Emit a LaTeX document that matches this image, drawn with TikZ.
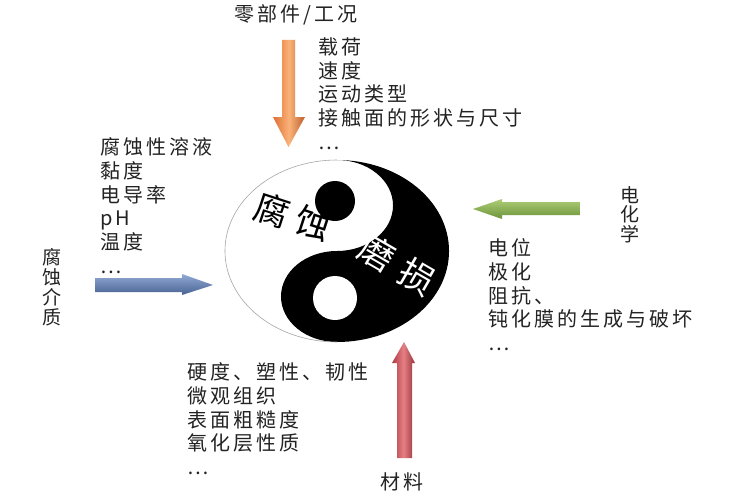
\documentclass[tikz,border=0pt]{standalone}
\usepackage{fontspec}
\newfontfamily\cjk{Noto Sans CJK SC}[LetterSpace=15]
\newfontfamily\cjkbig{Noto Sans CJK SC}
\definecolor{txt}{RGB}{35,35,35}
\definecolor{orD}{RGB}{222,112,52}
\definecolor{orL}{RGB}{250,178,120}
\definecolor{rdD}{RGB}{178,58,70}
\definecolor{rdL}{RGB}{228,128,132}
\definecolor{blL}{RGB}{145,170,212}
\definecolor{blD}{RGB}{72,98,148}
\definecolor{grL}{RGB}{172,205,118}
\definecolor{grD}{RGB}{108,148,58}
\tikzset{
  listtext/.style={font=\cjk\fontsize{20}{23.7}\selectfont, text=txt, align=left, inner sep=0pt, anchor=north west},
  vtext/.style={font=\cjk\fontsize{19}{20}\selectfont, text=txt, align=center, inner sep=0pt, anchor=north},
  label/.style={font=\cjk\fontsize{20}{24}\selectfont, text=txt, inner sep=0pt},
  bigtext/.style={font=\cjkbig\fontsize{35}{35}\selectfont, inner sep=0pt},
  arrowedge/.style={line width=0.4pt, line join=round}
}
\begin{document}
\begin{tikzpicture}[x=1pt,y=-1pt]
\useasboundingbox (0,0) rectangle (738,495);
\fill[white] (0,0) rectangle (738,495);

% yin-yang
\begin{scope}[shift={(337,251)}, x=1pt, y=1pt, xscale=1.231]
  \fill[white] (0,0) circle[radius=91pt];
  \fill[black] (0,91pt) arc[start angle=90,end angle=-90,radius=91pt]
     arc[start angle=-90,end angle=-270,radius=45.5pt]
     arc[start angle=-90,end angle=90,radius=45.5pt] -- cycle;
  \draw[gray!70, line width=0.6pt] (0,91pt) arc[start angle=90,end angle=270,radius=91pt];
\end{scope}
\fill[black] (335,201) circle[radius=20pt];
\fill[white] (335,298) circle[radius=22pt];
\node[bigtext, text=black, rotate=-18] (fu) at (272,210) {腐};
\node[bigtext, text=black, rotate=-18] (shi) at (313,223) {蚀};
\node[bigtext, text=white, rotate=-30] (mo) at (377,253) {磨};
\node[bigtext, text=white, rotate=-30] (sun) at (417,277) {损};

% orange arrow (top, pointing down)
\shade[left color=orD, right color=orD!85!black, middle color=orL, arrowedge]
  (282,40) -- (295,40) -- (295,117) -- (305,117) -- (288.5,147) -- (273,117) -- (282,117) -- cycle;
% red arrow (bottom, pointing up)
\shade[left color=rdD, right color=rdD!85!black, middle color=rdL, arrowedge]
  (397,458) -- (412,458) -- (412,363) -- (415,363) -- (404,342) -- (392,363) -- (397,363) -- cycle;
% blue arrow (left, pointing right)
\shade[top color=blL, bottom color=blD, arrowedge]
  (95,278) -- (182,278) -- (182,274) -- (213,285) -- (182,295) -- (182,292) -- (95,292) -- cycle;
% green arrow (right, pointing left)
\shade[top color=grL, bottom color=grD, arrowedge]
  (580,202) -- (502,202) -- (502,199) -- (473,209) -- (502,219) -- (502,215) -- (580,215) -- cycle;

% labels
\node[label] (parts) at (296,15) {零部件/工况};
\node[listtext] (partslist) at (318,37.5) {载荷\\速度\\运动类型\\接触面的形状与尺寸\\…};
\node[listtext] (medialist) at (100,137.5) {腐蚀性溶液\\黏度\\电导率\\pH\\温度\\…};
\node[vtext] (media) at (52,248) {腐\\蚀\\介\\质};
\node[vtext, font=\cjk\fontsize{19}{19.5}\selectfont] (echem) at (630,186) {电\\化\\学};
\node[listtext] (echemlist) at (488,238.5) {电位\\极化\\阻抗、\\钝化膜的生成与破坏\\…};
\node[listtext] (matlist) at (187,362.5) {硬度、塑性、韧性\\微观组织\\表面粗糙度\\氧化层性质\\…};
\node[label] (mat) at (402,482) {材料};
\end{tikzpicture}
\end{document}
